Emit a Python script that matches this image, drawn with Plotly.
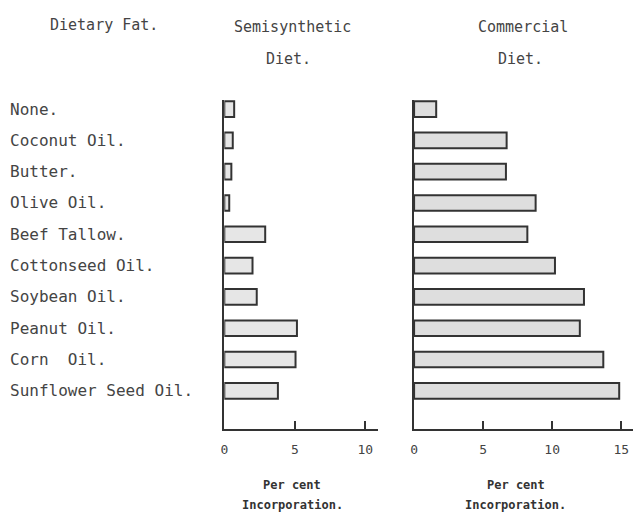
import plotly.graph_objects as go

fats = ["None.", "Coconut Oil.", "Butter.", "Olive Oil.", "Beef Tallow.",
        "Cottonseed Oil.", "Soybean Oil.", "Peanut Oil.", "Corn  Oil.",
        "Sunflower Seed Oil."]
semisynthetic = [0.7, 0.6, 0.5, 0.35, 2.9, 2.0, 2.3, 5.15, 5.05, 3.8]
commercial = [1.6, 6.7, 6.65, 8.8, 8.2, 10.2, 12.3, 12.0, 13.7, 14.85]
semi_ticks = [0, 5, 10]
comm_ticks = [0, 5, 10, 15]

W, H = 633, 513
FONT = "DejaVu Sans Mono"
INK = "#333333"
TXT = "#444444"

fig = go.Figure()
fig.add_trace(go.Bar(y=fats, x=semisynthetic, orientation="h", xaxis="x", yaxis="y",
                     width=0.5, marker=dict(color="#e6e6e6", line=dict(color=INK, width=2)),
                     showlegend=False))
fig.add_trace(go.Bar(y=fats, x=commercial, orientation="h", xaxis="x2", yaxis="y2",
                     width=0.5, marker=dict(color="#dedede", line=dict(color=INK, width=2)),
                     showlegend=False))

ydom = [1 - 429 / H, 1 - 100 / H]
yrange = [10.22, -0.29]
common_x = dict(showline=True, linecolor=INK, linewidth=2, ticks="inside", ticklen=8,
                tickwidth=1.5, tickcolor=INK, showgrid=False, zeroline=False,
                tickfont=dict(family=FONT, size=13, color=TXT), ticklabelstandoff=7)
common_y = dict(showline=True, linecolor=INK, linewidth=2, showticklabels=False, ticks="",
                showgrid=False, zeroline=False, range=yrange, domain=ydom,
                categoryorder="array", categoryarray=fats)

fig.update_layout(
    width=W, height=H, margin=dict(l=0, r=0, t=0, b=0),
    paper_bgcolor="white", plot_bgcolor="white",
    xaxis=dict(domain=[221.7 / W, 376.7 / W], range=[0, 10.92], tickvals=semi_ticks, anchor="y", **common_x),
    xaxis2=dict(domain=[412.7 / W, 1.0], range=[0, 15.85], tickvals=comm_ticks, anchor="y2", **common_x),
    yaxis=dict(anchor="x", **common_y),
    yaxis2=dict(anchor="x2", **common_y),
)

ann = []
for f in fats:
    ann.append(dict(x=4 / W, xref="paper", y=f, yref="y", text=f, showarrow=False,
                    xanchor="left", yanchor="middle",
                    font=dict(family=FONT, size=16, color=TXT)))

def ptxt(text, x, y, size=15, color=TXT):
    ann.append(dict(x=x / W, y=1 - y / H, xref="paper", yref="paper", text=text,
                    showarrow=False, xanchor="center", yanchor="middle",
                    font=dict(family=FONT, size=size, color=color)))

ptxt("Dietary Fat.", 101, 25)
ptxt("Semisynthetic", 290, 27)
ptxt("Diet.", 286, 59)
ptxt("Commercial", 522, 27)
ptxt("Diet.", 520, 59)
ptxt("<b>Per cent</b>", 290, 485, 12, INK)
ptxt("<b>Incorporation.</b>", 290, 505, 12, INK)
ptxt("<b>Per cent</b>", 515, 485, 12, INK)
ptxt("<b>Incorporation.</b>", 515, 505, 12, INK)

fig.update_layout(annotations=ann)
fig.write_html("out.html", config={"displayModeBar": False},
               post_script="document.body.style.margin='0';document.body.style.overflow='hidden';")
